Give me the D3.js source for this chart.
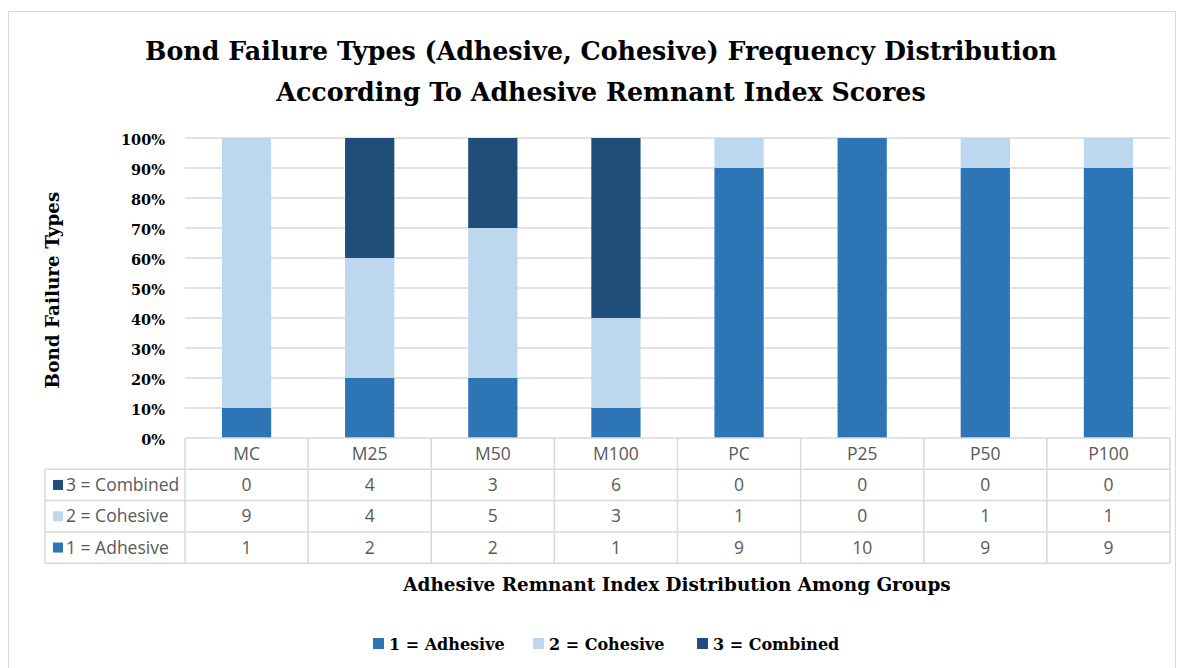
<!DOCTYPE html>
<html>
<head>
<meta charset="utf-8">
<script src="https://cdn.jsdelivr.net/npm/d3@7"></script>
<style>
  body { margin: 0; background: #fff; }
  .serif { font-family: "DejaVu Serif", "Liberation Serif", serif; font-weight: bold; fill: #000; }
  .cell { font-family: "Open Sans", "Liberation Sans", sans-serif; fill: #595959; }
</style>
</head>
<body>
<div id="chart"></div>
<script>
// chart data (counts out of 10 per group)
const groups = ["MC", "M25", "M50", "M100", "PC", "P25", "P50", "P100"];
const adhesive = [1, 2, 2, 1, 9, 10, 9, 9];
const cohesive = [9, 4, 5, 3, 1, 0, 1, 1];
const combined = [0, 4, 3, 6, 0, 0, 0, 0];
const seriesNames = ["1 = Adhesive", "2 = Cohesive", "3 = Combined"];
const yTicks = [0, 0.1, 0.2, 0.3, 0.4, 0.5, 0.6, 0.7, 0.8, 0.9, 1];

const colors = ["#2E75B6", "#BDD7EE", "#1F4E79"];

const W = 1184, H = 668;
const margin = {top: 138, right: 14, bottom: 230, left: 185},
    width = W - margin.left - margin.right,
    height = H - margin.top - margin.bottom;

const svg = d3.select("#chart")
  .append("svg")
    .attr("width", W)
    .attr("height", H);

// outer frame
svg.append("rect")
  .attr("x", 8.5).attr("y", 11.5)
  .attr("width", W - 17).attr("height", H + 20)
  .attr("fill", "none")
  .attr("stroke", "#d9d9d9");

// title
const title = svg.append("text")
  .attr("class", "serif")
  .attr("text-anchor", "middle")
  .style("font-size", "25.3px");
title.append("tspan").attr("x", 601).attr("y", 60)
  .text("Bond Failure Types (Adhesive, Cohesive) Frequency Distribution");
title.append("tspan").attr("x", 601).attr("y", 101)
  .text("According To Adhesive Remnant Index Scores");

const g = svg.append("g")
  .attr("transform", "translate(" + margin.left + "," + margin.top + ")");

let x = d3.scaleBand()
  .domain(groups)
  .range([0, width])
  .paddingInner(0.6)
  .paddingOuter(0.3);
let xCol = d3.scaleBand().domain(groups).range([0, width]);

let y = d3.scaleLinear()
  .domain([0, 1])
  .range([height, 0]);

// gridlines
g.append("g")
  .selectAll("line")
  .data(yTicks.slice(1))
  .enter()
  .append("line")
    .attr("x1", 0).attr("x2", width)
    .attr("y1", d => y(d)).attr("y2", d => y(d))
    .attr("stroke", "#d9d9d9")
    .attr("stroke-width", 1.3);

// y tick labels
g.append("g")
  .selectAll("text")
  .data(yTicks)
  .enter()
  .append("text")
    .attr("class", "serif")
    .attr("text-anchor", "end")
    .attr("x", -20)
    .attr("y", d => y(d) + 7)
    .style("font-size", "14.5px")
    .text(d => d3.format(".0%")(d));

// stacked bars
const rows = groups.map((grp, i) => {
  const tot = adhesive[i] + cohesive[i] + combined[i];
  return {group: grp, a: adhesive[i] / tot, c: cohesive[i] / tot, m: combined[i] / tot};
});
const stack = d3.stack().keys(["a", "c", "m"]);
const layers = stack(rows);

g.append("g")
  .selectAll("g")
  .data(layers)
  .enter()
  .append("g")
    .attr("fill", (d, i) => colors[i])
  .selectAll("rect")
  .data(d => d)
  .enter()
  .append("rect")
    .attr("x", d => x(d.data.group))
    .attr("y", d => y(d[1]))
    .attr("width", x.bandwidth())
    .attr("height", d => y(d[0]) - y(d[1]));

// data table under the plot
const rowH = 31.3;
const tableLeft = 45 - margin.left;
const tg = g.append("g").attr("transform", "translate(0," + height + ")");
const tableRows = [
  {name: seriesNames[2], vals: combined, color: colors[2]},
  {name: seriesNames[1], vals: cohesive, color: colors[1]},
  {name: seriesNames[0], vals: adhesive, color: colors[0]}
];
const lineColor = "#d9d9d9";

// horizontal lines
tg.append("line").attr("x1", 0).attr("x2", width).attr("y1", 0).attr("y2", 0)
  .attr("stroke", lineColor).attr("stroke-width", 1.5);
[1, 2, 3, 4].forEach(r => {
  tg.append("line")
    .attr("x1", tableLeft).attr("x2", width)
    .attr("y1", r * rowH).attr("y2", r * rowH)
    .attr("stroke", lineColor).attr("stroke-width", 1.5);
});
// vertical lines
groups.forEach(grp => {
  tg.append("line")
    .attr("x1", xCol(grp)).attr("x2", xCol(grp))
    .attr("y1", 0).attr("y2", 4 * rowH)
    .attr("stroke", lineColor).attr("stroke-width", 1.5);
});
tg.append("line").attr("x1", width).attr("x2", width).attr("y1", 0).attr("y2", 4 * rowH)
  .attr("stroke", lineColor).attr("stroke-width", 1.5);
tg.append("line").attr("x1", tableLeft).attr("x2", tableLeft).attr("y1", rowH).attr("y2", 4 * rowH)
  .attr("stroke", lineColor).attr("stroke-width", 1.5);

// header
tg.selectAll(".hdr")
  .data(groups)
  .enter()
  .append("text")
    .attr("class", "cell")
    .attr("text-anchor", "middle")
    .attr("x", d => xCol(d) + xCol.bandwidth() / 2)
    .attr("y", rowH / 2 + 6)
    .style("font-size", "17.5px")
    .text(d => d);

tableRows.forEach((row, r) => {
  const yy = (r + 1) * rowH;
  tg.append("rect")
    .attr("x", tableLeft + 8).attr("y", yy + rowH / 2 - 5)
    .attr("width", 10).attr("height", 10)
    .attr("fill", row.color);
  tg.append("text")
    .attr("class", "cell")
    .attr("x", tableLeft + 21)
    .attr("y", yy + rowH / 2 + 6)
    .style("font-size", "17.5px")
    .text(row.name);
  tg.selectAll(".v" + r)
    .data(row.vals)
    .enter()
    .append("text")
      .attr("class", "cell")
      .attr("text-anchor", "middle")
      .attr("x", (d, i) => xCol(groups[i]) + xCol.bandwidth() / 2)
      .attr("y", yy + rowH / 2 + 6)
      .style("font-size", "17.5px")
      .text(d => d);
});

// axis titles
svg.append("text")
  .attr("class", "serif")
  .attr("text-anchor", "middle")
  .attr("x", 677)
  .attr("y", 591)
  .style("font-size", "18.4px")
  .text("Adhesive Remnant Index Distribution Among Groups");

svg.append("text")
  .attr("class", "serif")
  .attr("text-anchor", "middle")
  .attr("transform", "translate(59,290) rotate(-90)")
  .style("font-size", "18.4px")
  .text("Bond Failure Types");

// legend
const legendX = [373, 533, 697];
const legend = svg.append("g");
seriesNames.forEach((name, i) => {
  legend.append("rect")
    .attr("x", legendX[i]).attr("y", 638)
    .attr("width", 11).attr("height", 11)
    .attr("fill", colors[i]);
  legend.append("text")
    .attr("class", "serif")
    .attr("x", legendX[i] + 16)
    .attr("y", 650)
    .style("font-size", "16px")
    .text(name);
});
</script>
</body>
</html>
